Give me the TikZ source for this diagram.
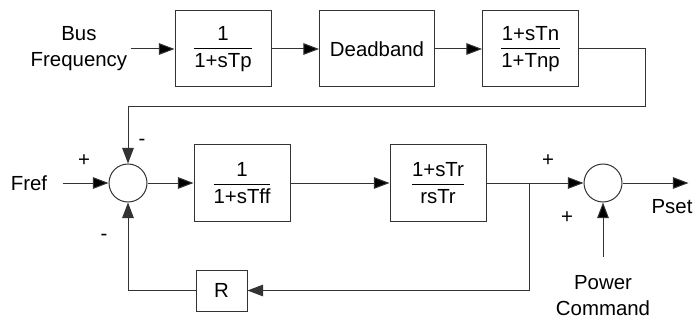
\documentclass[tikz,border=0pt]{standalone}
\usepackage{fontspec}
\setmainfont{Liberation Sans}
\usepackage{amsmath}
\usepackage{tikz}
\usetikzlibrary{arrows.meta,positioning}
\tikzset{
    %Define standard arrow tip
    >={Triangle[length=7.8pt,width=5.8pt]},
    font=\fontsize{10.2}{13}\selectfont,
    %Define style for boxes
    block/.style={
           rectangle,
           draw=black!80, line width=0.5pt,
           minimum width=48pt,
           minimum height=38pt,
           inner sep=1pt,
           text centered},
    % Define arrow style
    signal/.style={
           ->,
           draw=black!80,
           line width=0.5pt},
    % Define summing junction and text styles
    sum node/.style={circle,draw=black!80,line width=0.5pt,minimum size=19pt,inner sep=0pt},
    plain label/.style={align=center,inner sep=1.5pt},
    sign node/.style={inner sep=0pt}
}
\newcommand{\blockfrac}[2]{$\dfrac{\mbox{#1}}{\mbox{#2}}$}

\begin{document}
\begin{tikzpicture}[node distance=23.75pt]
  \useasboundingbox (0,0) rectangle (347pt,-160pt);
  % upper path
  \node[block] (tp) at (111.5pt,-24.5pt) {\blockfrac{1}{1+sTp}};
  \node[block, minimum width=57.5pt] (db) [right=of tp] {Deadband};
  \node[block] (tn) [right=23.5pt of db] {\blockfrac{1+sTn}{1+Tnp}};
  \node[plain label] (bus) [left=22pt of tp] {Bus\\Frequency};
  % main path
  \node[sum node] (sum1) at (64pt,-91.5pt) {};
  \node[block] (tff) [right=23pt of sum1] {\blockfrac{1}{1+sTff}};
  \node[block] (tr) [right=49.5pt of tff] {\blockfrac{1+sTr}{rsTr}};
  \coordinate[right=21.5pt of tr] (br);
  \node[sum node] (sum2) [right=48.5pt of tr] {};
  \coordinate[right=33pt of sum2] (pout);
  \node[plain label, inner xsep=7.5pt] (fref) [left=23pt of sum1] {Fref};
  \node[plain label, inner ysep=9.3pt] (pc) at ([yshift=-56.4pt]sum2) {Power\\Command};
  \node[plain label] (pset) at (336pt,-103.5pt) {Pset};
  \node[block, minimum width=25.5pt, minimum height=20.5pt] (rbox) at (110.75pt,-145.25pt) {R};
  % signs
  \node[sign node] at ([shift={(-22pt,11pt)}]sum1) {+};
  \node[sign node] at ([shift={(7pt,20.5pt)}]sum1) {-};
  \node[sign node] at ([shift={(-12pt,-27pt)}]sum1) {-};
  \node[sign node] at ([shift={(-27.5pt,11pt)}]sum2) {+};
  \node[sign node] at ([shift={(-18pt,-17.5pt)}]sum2) {+};
  % connections
  \path[signal]
    (bus) edge (tp)
    (tp) edge (db)
    (db) edge (tn)
    (fref) edge (sum1)
    (sum1) edge (tff)
    (tff) edge (tr)
    (tr) edge (sum2)
    (sum2) edge (pout)
    (pc) edge (sum2);
  \draw[signal] (tn.east) -- ++(33.25pt,0) -- ++(0,-28.75pt) -| (sum1.north);
  \draw[signal] (br) |- (rbox);
  \draw[signal] (rbox) -| (sum1);
\end{tikzpicture}
\end{document}
